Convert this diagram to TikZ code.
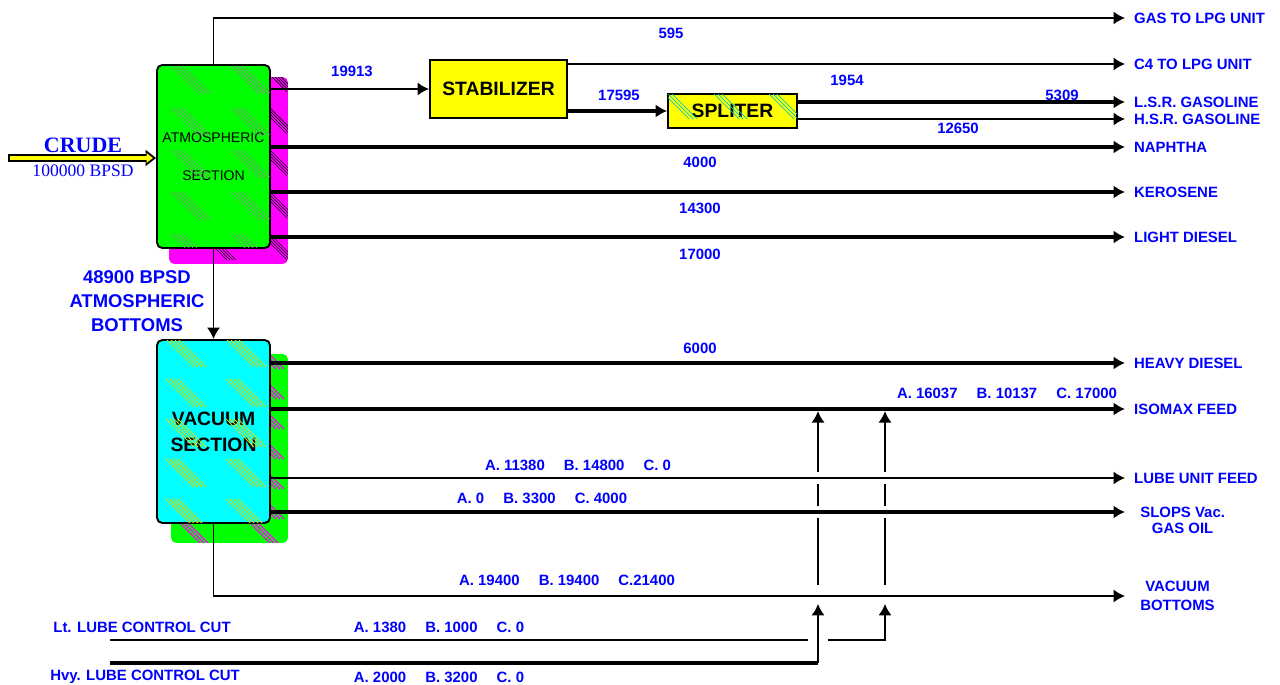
\documentclass[tikz,border=0pt]{standalone}
\usepackage{fontspec}
\setmainfont{Liberation Serif}
\setsansfont{Liberation Sans}
\usetikzlibrary{arrows.meta, calc, backgrounds}
\definecolor{plantgreen}{RGB}{0,255,0}
\definecolor{plantcyan}{RGB}{0,255,255}
\definecolor{plantmagenta}{RGB}{255,0,255}
\definecolor{plantyellow}{RGB}{255,255,0}
\definecolor{flowblue}{RGB}{0,0,255}

\begin{document}
\begin{tikzpicture}[x=0.02cm, y=-0.02cm,
                unitbox/.style={rectangle, draw, line width=1.1pt, inner sep=0pt, align=center,
                    font=\sffamily\bfseries\fontsize{11}{14.7}\selectfont},
                sectionbox/.style={unitbox, rounded corners=3pt, minimum width=2.26cm, minimum height=3.66cm},
                stream/.style={flowblue, inner sep=0pt, font=\sffamily\bfseries\fontsize{8.5}{10.8}\selectfont},
                product/.style={stream, anchor=west, inner xsep=5pt, align=center},
                pipe/.style={line width=1.1pt},
                bigpipe/.style={line width=2.2pt},
                paths/.style={pipe, -{Latex[length=6.5pt,width=7.5pt]}},
                bigpaths/.style={bigpipe, -{Latex[length=6.5pt,width=7.5pt]}},
                hatch/.style={line width=0.4pt}
            ]
                \useasboundingbox (0,0) rectangle (1280,685);

                % Nodes
                \node[sectionbox, fill=plantgreen, font=\sffamily\fontsize{8}{21.5}\selectfont] (atm) at (213.5,156.5) {ATMOSPHERIC\\SECTION};
                \node[sectionbox, fill=plantcyan] (vac) at (213.5,431.5) {VACUUM\\SECTION};
                \node[unitbox, fill=plantyellow, minimum width=2.74cm, minimum height=1.16cm] (stab) at (498.5,89) {STABILIZER};
                \node[unitbox, fill=plantyellow, minimum width=2.58cm, minimum height=0.68cm] (split) at (732.5,111) {SPLITER};

                % Products
                \node[product] (gas) at (1125,18) {GAS TO LPG UNIT};
                \node[product] (c4) at (1125,64) {C4 TO LPG UNIT};
                \node[product] (lsr) at (1125,102) {L.S.R. GASOLINE};
                \node[product] (hsr) at (1125,119) {H.S.R. GASOLINE};
                \node[product] (naph) at (1125,147) {NAPHTHA};
                \node[product] (kero) at (1125,192) {KEROSENE};
                \node[product] (ldsl) at (1125,237) {LIGHT DIESEL};
                \node[product] (hdsl) at (1125,363) {HEAVY DIESEL};
                \node[product] (iso) at (1125,409) {ISOMAX FEED};
                \node[product] (lube) at (1125,478) {LUBE UNIT FEED};
                \node[product, inner xsep=8.5pt] (slops) at (1125,512) {SLOPS Vac.};
                \node[stream, anchor=north] (gasoil) at ($(slops.south)+(0,5)$) {GAS OIL};
                \node[product, inner xsep=8.5pt] (vbot) at (1125,596) {VACUUM\\BOTTOMS};

                % Shadows (with hatching)
                \begin{scope}[on background layer]
                    \fill[plantmagenta, rounded corners=3pt] ($(atm.north west)+(13,13)$) rectangle ($(atm.south east)+(17,15)$);
                    \begin{scope}
                        \clip ($(atm.north west)+(13,13)$) rectangle ($(atm.south east)+(17,15)$);
                        \foreach \hx in {43,103} \foreach \hy in {0,42,84,126,168} \foreach \k in {0,3,6,9}
                            \draw[hatch] ($(atm.north west)+(\hx+\k,\hy)$) -- ++(28,28);
                    \end{scope}
                    \fill[plantgreen, rounded corners=3pt] ($(vac.north west)+(15,15)$) rectangle ($(vac.south east)+(17,19)$);
                    \begin{scope}
                        \clip ($(vac.north west)+(15,15)$) rectangle ($(vac.south east)+(17,19)$);
                        \foreach \hx in {20,90} \foreach \hy in {0,30,...,180} \foreach \k in {0,4,8}
                            \draw[hatch, plantmagenta, line width=0.7pt] ($(vac.north west)+(\hx+\k,\hy)$) -- ++(30,30);
                    \end{scope}
                \end{scope}

                % Hatching in the units
                \begin{scope}
                    \clip ($(atm.north west)+(1,1)$) rectangle ($(atm.south east)+(-1,-1)$);
                    \foreach \hx in {15,75} \foreach \hy in {2,44,86,128,170} \foreach \k in {0,4,8,12}
                        \draw[hatch, black!45] ($(atm.north west)+(\hx+\k,\hy)$) -- ++(28,28);
                \end{scope}
                \begin{scope}
                    \clip ($(vac.north west)+(1,1)$) rectangle ($(vac.south east)+(-1,-1)$);
                    \foreach \hx in {10,70} \foreach \hy in {0,40,80,120,160} \foreach \k in {0,4,8,12}
                        \draw[hatch, plantyellow!85!black, line width=0.6pt] ($(vac.north west)+(\hx+\k,\hy)$) -- ++(28,28);
                \end{scope}
                \begin{scope}
                    \clip ($(split.north west)+(1,1)$) rectangle ($(split.south east)+(-1,-1)$);
                    \foreach \hx in {-10,40,95} \foreach \k in {0,4,8}
                        \draw[hatch, plantcyan!80!black] ($(split.north west)+(\hx+\k,-6)$) -- ++(32,32);
                \end{scope}

                % Paths: atmospheric section
                \draw[paths] (atm.north) |- (gas.west);
                \draw[paths] (atm.east |- stab.west) -- (stab.west);
                \draw[bigpaths] (atm.east |- naph.west) -- (naph.west);
                \draw[bigpaths] (atm.east |- kero.west) -- (kero.west);
                \draw[bigpaths] (atm.east |- ldsl.west) -- (ldsl.west);
                \draw[paths] (atm.south) -- (vac.north);

                % Paths: stabilizer and spliter
                \draw[paths] (stab.east |- c4.west) -- (c4.west);
                \draw[bigpaths] (stab.east |- split.west) -- (split.west);
                \draw[bigpaths] (split.east |- lsr.west) -- (lsr.west);
                \draw[paths] (split.east |- hsr.west) -- (hsr.west);

                % Paths: vacuum section
                \draw[bigpaths] (vac.east |- hdsl.west) -- (hdsl.west);
                \draw[bigpaths] (vac.east |- iso.west) -- (iso.west);
                \draw[paths] (vac.east |- lube.west) -- (lube.west);
                \draw[bigpaths] (vac.east |- slops.west) -- (slops.west);
                \draw[paths] (vac.south) |- (vbot.west);

                % Crude feed
                \coordinate (crudein) at (8,158);
                \draw[line width=5pt, -{Triangle[length=6pt,width=9pt]}] (crudein) -- (atm.west |- crudein);
                \draw[plantyellow, line width=2.8pt, shorten <=1.1pt, shorten >=1.8pt, -{Triangle[length=3.6pt,width=5.4pt]}] (crudein) -- (atm.west |- crudein);

                % Lube control cuts to isomax feed
                \coordinate (ltin) at (110,640);
                \coordinate (hvyin) at (110,663);
                \coordinate (tap1) at (818,596);
                \coordinate (tap2) at (885,596);

                \draw[bigpipe] (hvyin) -- (hvyin -| tap1);
                \draw[paths, shorten >=4.5pt] (hvyin -| tap1) -- (tap1);
                \draw[pipe, shorten >=5.5pt] (ltin) -- (ltin -| tap1);
                \draw[paths, shorten <=5.5pt, shorten >=4.5pt] (ltin -| tap1) -| (tap2);

                \foreach \tap in {tap1, tap2} {
                    \draw[pipe, shorten <=6.5pt, shorten >=3.4pt] (\tap) -- (\tap |- slops.west);
                    \draw[pipe, shorten <=3.4pt, shorten >=3.4pt] (\tap |- slops.west) -- (\tap |- lube.west);
                    \draw[paths, shorten <=3.4pt, shorten >=1.2pt] (\tap |- lube.west) -- (\tap |- iso.west);
                }

                % Labels: flow rates
                \node[stream] (q595) at (671,33) {595};
                \node[stream] (q19913) at (352,71) {19913};
                \node[stream] (q17595) at (619,95) {17595};
                \node[stream] (q1954) at (847,80) {1954};
                \node[stream] (q5309) at (1062,95) {5309};
                \node[stream] (q12650) at (958,128) {12650};
                \node[stream] (q4000) at (700,162) {4000};
                \node[stream] (q14300) at (700,208) {14300};
                \node[stream] (q17000) at (700,254) {17000};
                \node[stream] (q6000) at (700,348) {6000};
                \node[stream] (qiso) at (1007,393) {A. 16037 \quad B. 10137 \quad C. 17000};
                \node[stream] (qlube) at (578,465) {A. 11380 \quad B. 14800 \quad C. 0};
                \node[stream] (qslops) at (542,498) {A. 0 \quad B. 3300 \quad C. 4000};
                \node[stream] (qvbot) at (567,580) {A. 19400 \quad B. 19400 \quad C.21400};
                \node[stream] (qlt) at (439,627) {A. 1380 \quad B. 1000 \quad C. 0};
                \node[stream] (qhvy) at (439,677) {A. 2000 \quad B. 3200 \quad C. 0};

                % Labels: feeds
                \node[stream] (lt) at (142,627) {Lt. LUBE CONTROL CUT};
                \node[stream] (hvy) at (145,677) {Hvy. LUBE CONTROL CUT};
                \node[stream, align=center, font=\sffamily\bfseries\fontsize{10.5}{13.6}\selectfont] (atmbot) at (137,301) {48900 BPSD\\ATMOSPHERIC\\BOTTOMS};
                \node[flowblue, inner sep=0pt, font=\rmfamily\bfseries\fontsize{12.5}{14}\selectfont] (crude) at (83,145) {CRUDE};
                \node[flowblue, inner sep=0pt, font=\rmfamily\fontsize{10}{12}\selectfont] (bpsd) at (83,171) {100000 BPSD};
            \end{tikzpicture}
\end{document}
